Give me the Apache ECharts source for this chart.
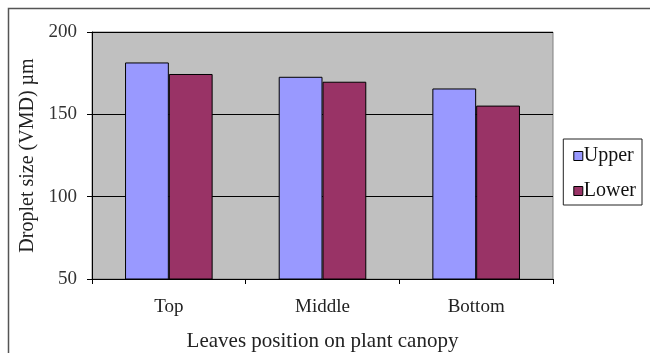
<!DOCTYPE html>
<html><head><meta charset="utf-8">
<style>html,body{margin:0;padding:0;background:#fff}#c{width:650px;height:353px}</style>
<script src="https://cdn.jsdelivr.net/npm/echarts@6/dist/echarts.min.js"></script>
</head><body><div id="c"></div>
<script>
var categories = ['Top', 'Middle', 'Bottom'];
var upperValues = [181.5, 172.8, 165.7];
var lowerValues = [174.5, 169.8, 155.3];
var yTicks = [50, 100, 150, 200];

var chart = echarts.init(document.getElementById('c'), null, {renderer: 'canvas'});
var font = '"Liberation Serif", "Times New Roman", serif';
chart.setOption({
  animation: false,
  backgroundColor: '#fff',
  graphic: [{
    type: 'polyline',
    shape: {points: [[8.5, 353], [8.5, 8.5], [650, 8.5]]},
    style: {stroke: '#555', lineWidth: 1.5, fill: null},
    silent: true
  }],
  grid: {left: 92, top: 32, width: 461, height: 247, outerBoundsMode: 'none', containLabel: false,
    backgroundColor: '#C0C0C0', show: true, borderColor: '#808080', borderWidth: 1},
  legend: {
    orient: 'vertical', right: 8, top: 139,
    padding: [7, 6, 4, 10],
    itemGap: 15,
    backgroundColor: '#fff', borderColor: '#222', borderWidth: 1,
    itemWidth: 9, itemHeight: 9,
    textStyle: {fontFamily: font, fontSize: 20, color: '#111', padding: [0, 0, 0, -4]},
    data: [
      {name: 'Upper', icon: 'rect', itemStyle: {borderColor: '#000', borderWidth: 1}},
      {name: 'Lower', icon: 'rect', itemStyle: {borderColor: '#000', borderWidth: 1}}
    ]
  },
  xAxis: {
    type: 'category', data: categories,
    name: 'Leaves position on plant canopy', nameLocation: 'middle', nameGap: 52,
    nameTextStyle: {fontFamily: font, fontSize: 21, color: '#222'},
    axisLine: {lineStyle: {color: '#000', width: 1}},
    axisTick: {show: true, alignWithLabel: false, length: 5, lineStyle: {color: '#000'}},
    axisLabel: {fontFamily: font, fontSize: 19, color: '#222', margin: 19},
    splitLine: {show: false}
  },
  yAxis: {
    type: 'value', min: 50, max: 200, interval: 50,
    name: 'Droplet size (VMD) µm', nameLocation: 'middle', nameGap: 47, nameRotate: 90,
    nameTextStyle: {fontFamily: font, fontSize: 20, color: '#222'},
    axisLine: {show: true, lineStyle: {color: '#000', width: 1}},
    axisTick: {show: true, length: 5, lineStyle: {color: '#000'}},
    axisLabel: {fontFamily: font, fontSize: 19, color: '#333', margin: 15,
      formatter: function (v) { return yTicks.indexOf(v) >= 0 ? String(v) : ''; }},
    splitLine: {show: true, lineStyle: {color: '#000', width: 1}}
  },
  series: [
    {name: 'Upper', type: 'bar', data: upperValues, barGap: '0%', barCategoryGap: '43%',
     itemStyle: {color: '#9999FF', borderColor: '#000', borderWidth: 1}},
    {name: 'Lower', type: 'bar', data: lowerValues, barGap: '0%', barCategoryGap: '43%',
     itemStyle: {color: '#993366', borderColor: '#000', borderWidth: 1}}
  ]
});
</script></body></html>
